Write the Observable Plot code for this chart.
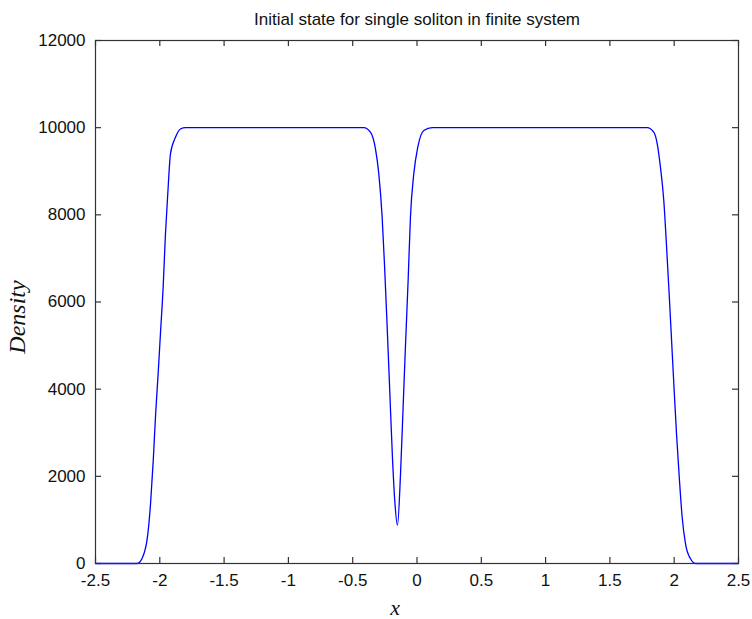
<!DOCTYPE html>
<html>
<head>
<meta charset="utf-8">
<script src="https://cdn.jsdelivr.net/npm/d3@7"></script>
<script src="https://cdn.jsdelivr.net/npm/@observablehq/plot@0.6"></script>
<style>
  html, body { margin: 0; padding: 0; background: #fff; }
  #chart { width: 752px; height: 619px; }
</style>
</head>
<body>
<div id="chart"></div>
<script>
const title = "Initial state for single soliton in finite system";
const xLabel = "x";
const yLabel = "Density";
const xTicks = [-2.5, -2, -1.5, -1, -0.5, 0, 0.5, 1, 1.5, 2, 2.5];
const yTicks = [0, 2000, 4000, 6000, 8000, 10000, 12000];

const xs = [
  -2.5, -2.176, -2.124, -2.093, -2.072, -2.051, -2.033, -2.012, -1.995, -1.974,
  -1.956, -1.938, -1.917, -1.878, -1.839, -1.80,
  -0.414, -0.362, -0.323, -0.297, -0.271, -0.253, -0.233, -0.212, -0.191, -0.173,
  -0.152, -0.128, -0.107, -0.089, -0.068, -0.051, -0.025, 0.006, 0.053, 0.118,
  1.790, 1.841, 1.868, 1.893, 1.919, 1.938, 1.958, 1.977, 1.997, 2.018,
  2.041, 2.062, 2.088, 2.127, 2.166, 2.5
];
const density = [
  0, 0, 220, 680, 1370, 2360, 3400, 4400, 5270, 6340,
  7560, 8480, 9400, 9780, 9970, 10000,
  10000, 9896, 9514, 8941, 7946, 6877, 5500, 3970, 2439, 1446,
  880, 2058, 3664, 5041, 6569, 7946, 8941, 9552, 9935, 10000,
  10000, 9896, 9630, 9093, 8329, 7411, 6340, 5270, 4123, 2975,
  1904, 1062, 452, 108, 0, 0
];

const points = xs.map((x, i) => ({x, y: density[i]}));

const W = 752, H = 619, ML = 95, MR = 14, MT = 40, MB = 56;
const innerW = W - ML - MR, innerH = H - MT - MB;
const tickLen = 6;
const axisColor = "#333333";
const sans = "'Liberation Sans', Arial, sans-serif";
const serif = "'Liberation Serif', 'Times New Roman', serif";

const chart = Plot.plot({
  width: W,
  height: H,
  marginLeft: ML,
  marginRight: MR,
  marginTop: MT,
  marginBottom: MB,
  style: {fontFamily: sans, fontSize: "17px", color: "#111", background: "#fff"},
  x: {domain: [-2.5, 2.5], ticks: xTicks, label: null},
  y: {domain: [0, 12000], ticks: yTicks, label: null},
  marks: [
    Plot.line(points, {x: "x", y: "y", stroke: "#0000ff", strokeWidth: 1.3, curve: "monotone-x"}),
    // inward tick marks on all four sides
    Plot.tickX(xTicks, {x: d => d, insetTop: innerH - tickLen, stroke: axisColor, strokeWidth: 1.2}),
    Plot.tickX(xTicks, {x: d => d, insetBottom: innerH - tickLen, stroke: axisColor, strokeWidth: 1.2}),
    Plot.tickY(yTicks, {y: d => d, insetRight: innerW - tickLen, stroke: axisColor, strokeWidth: 1.2}),
    Plot.tickY(yTicks, {y: d => d, insetLeft: innerW - tickLen, stroke: axisColor, strokeWidth: 1.2}),
    Plot.frame({stroke: axisColor, strokeWidth: 1.2}),
    Plot.axisX(xTicks, {anchor: "bottom", tickSize: 0, tickPadding: 10, fill: "#111", tickFormat: d => String(d), fontSize: 17}),
    Plot.axisY(yTicks, {anchor: "left", tickSize: 0, tickPadding: 10, fill: "#111", tickFormat: d => String(d), fontSize: 17}),
    Plot.text([title], {frameAnchor: "top", dy: -28, fontSize: 17, fill: "#111", fontFamily: sans}),
    Plot.text([yLabel], {frameAnchor: "left", textAnchor: "middle", lineAnchor: "middle", dx: -78, dy: 15, rotate: -90, fontSize: 24, fontStyle: "italic", fontFamily: serif, fill: "#111"}),
    Plot.text([xLabel], {frameAnchor: "bottom", textAnchor: "middle", lineAnchor: "middle", dx: -22, dy: 44, fontSize: 22, fontStyle: "italic", fontFamily: serif, fill: "#111"})
  ]
});
document.getElementById("chart").appendChild(chart);
</script>
</body>
</html>
